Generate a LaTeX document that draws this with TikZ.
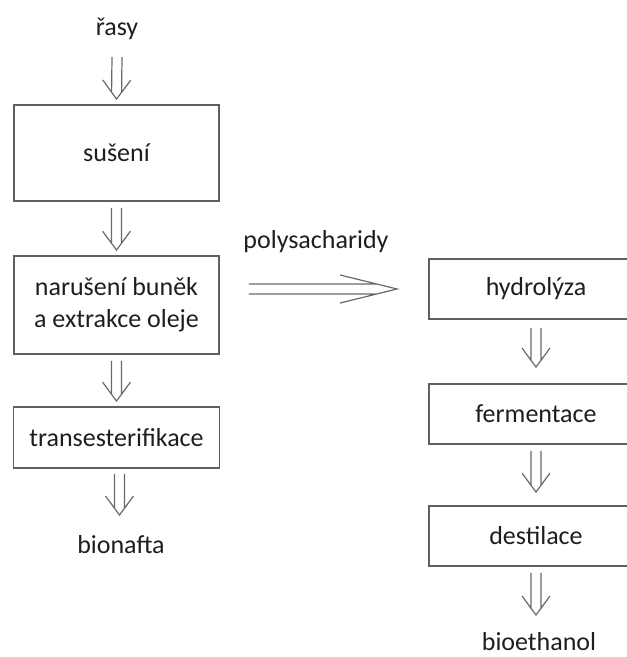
\documentclass[tikz,border=0pt]{standalone}
\usepackage{fontspec}
\setmainfont{Carlito}
\usetikzlibrary{calc}

\definecolor{boxgray}{RGB}{95,95,95}
\definecolor{arrowgray}{RGB}{105,105,105}
\definecolor{textdark}{RGB}{30,30,30}

\tikzset{
    headlen/.store in=\headlen, headlen=14.25pt,
    shaftend/.store in=\shaftend, shaftend=5.1pt,
    stepbox/.style={draw=boxgray, line width=1.4pt, inner sep=0pt, align=center},
    label/.style={inner sep=0pt, anchor=base},
    % dvojita sipka (jako v puvodnim obrazku)
    dblarrow/.style={draw=arrowgray, line width=0.9pt,
        to path={
            (\tikztostart) coordinate (tail)
            (\tikztotarget) coordinate (tip)
            ($(tip)!\headlen!(tail)$) coordinate (hb)
            ($(tip)!\shaftend!(tail)$) coordinate (se)
            ($(tail)!3.75pt!90:(tip)$) -- ($(se)!3.75pt!-90:(tail)$)
            ($(tail)!3.75pt!-90:(tip)$) -- ($(se)!3.75pt!90:(tail)$)
            ($(hb)!10.5pt!-90:(tail)$) -- (tip) -- ($(hb)!10.5pt!90:(tail)$)
        }}
}

\begin{document}
\begin{tikzpicture}[x=0.75pt, y=-0.75pt,
    every node/.style={font=\fontsize{19.5}{24}\selectfont, text=textdark}]

    \useasboundingbox (0,0) rectangle (627,657);
    \clip (0,0) rectangle (627,657);

    % Levy sloupec: olej
    \node[label] (rasy) at (117,35) {řasy};
    \node[stepbox, minimum width=153.75pt, minimum height=72pt] (suseni) at (116.5,153) {sušení};
    \node[stepbox, minimum width=153.75pt, minimum height=73.5pt] (narus) at (116.5,305) {narušení buněk\\a extrakce oleje};
    \node[stepbox, minimum width=154.5pt, minimum height=45.75pt] (trans) at (116.5,437.5) {transesterifikace};
    \node[label] (bionafta) at (121,553) {bionafta};

    \draw[dblarrow] ($(rasy.base)+(0,22)$) to ($(suseni.north)+(0,-5)$);
    \draw[dblarrow] ($(suseni.south)+(0,6)$) to ($(narus.north)+(0,-5)$);
    \draw[dblarrow] ($(narus.south)+(0,6)$) to ($(trans.north)+(0,-5)$);
    \draw[dblarrow] ($(trans.south)+(3,5)$) to ($(bionafta.base -| trans.south)+(3,-38)$);

    % Pravy sloupec: ethanol
    \node[stepbox, minimum width=160.5pt, minimum height=45pt] (hydro) at (536,289) {hydrolýza};
    \node[stepbox, minimum width=160.5pt, minimum height=45pt] (ferm) at (536,414) {fermentace};
    \node[stepbox, minimum width=160.5pt, minimum height=45pt] (dest) at (536,536) {destilace};
    \node[label] (bioeth) at (539,650) {bioethanol};

    \draw[dblarrow] ($(hydro.south)+(0,8)$) to ($(ferm.north)+(0,-16)$);
    \draw[dblarrow] ($(ferm.south)+(0,6)$) to ($(dest.north)+(0,-13)$);
    \draw[dblarrow] ($(dest.south)+(0,6)$) to ($(bioeth.base -| dest.south)+(0,-35)$);

    % Prechod mezi sloupci
    \node[label] (polysach) at (316,248) {polysacharidy};
    \draw[dblarrow, headlen=42.75pt, shaftend=14.7pt]
        ($(narus.east |- hydro.west)+(29,0)$) to ($(hydro.west)+(-31,0)$);

\end{tikzpicture}
\end{document}
